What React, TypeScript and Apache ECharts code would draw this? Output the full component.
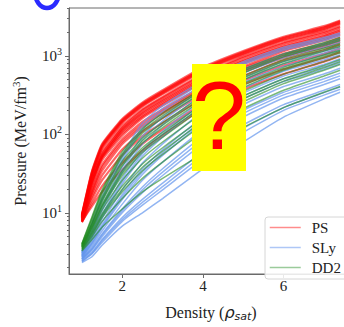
import { useEffect, useRef } from 'react';
import * as echarts from 'echarts';

// Densities (in units of rho_sat) at which each EOS curve is sampled
const DENSITY = [1, 1.25, 1.5, 2, 2.5, 3, 4, 5, 6, 7, 7.4];

// Pressure (MeV/fm^3) for the PS family
const PS_CURVES = [
  [9.5, 34, 75, 157, 253, 364, 714, 1150, 1750, 2390, 2830],
  [9.4, 33, 73, 152, 246, 352, 690, 1120, 1700, 2320, 2750],
  [9.2, 32.5, 71, 148, 239, 344, 675, 1090, 1660, 2260, 2670],
  [9.0, 31, 68, 144, 232, 334, 655, 1060, 1610, 2190, 2600],
  [8.9, 30, 66, 140, 226, 325, 638, 1030, 1570, 2130, 2525],
  [8.7, 27.5, 60, 129, 208, 299, 586, 972, 1480, 2020, 2390],
  [8.9, 26, 54, 121, 202, 290, 570, 946, 1440, 1960, 2320],
  [9.2, 28.3, 57, 118, 191, 275, 540, 894, 1360, 1850, 2190],
  [8.6, 25, 51, 113, 185, 266, 520, 860, 1300, 1780, 2100],
  [8.5, 24.6, 52.5, 109, 175, 253, 496, 822, 1250, 1710, 2020],
  [8.3, 23, 50, 103, 168, 243, 476, 790, 1200, 1640, 1930],
  [8.2, 21.9, 47, 97, 161, 232, 456, 730, 1150, 1570, 1850],
  [8.0, 19.6, 40.7, 87, 144, 208, 407, 694, 1060, 1440, 1710],
  [7.9, 18.5, 38, 81, 134, 196, 385, 655, 1000, 1360, 1610],
  [7.8, 17.5, 34.4, 75.5, 125, 185, 364, 621, 946, 1290, 1520],
  [8.0, 16.1, 30, 64, 109, 161, 325, 554, 880, 1180, 1400],
  [7.6, 14.8, 26, 54, 95, 140, 283, 482, 755, 1060, 1250],
  [7.6, 13.2, 21.9, 43, 75.5, 115, 245, 431, 675, 946, 1120],
  [7.8, 12.2, 18.5, 35.4, 62, 97, 213, 374, 586, 845, 1000],
];

// Pressure (MeV/fm^3) for the SLy family
const SLY_CURVES = [
  [3.25, 7.55, 16.1, 53.9, 140, 232, 482, 845, 1290, 1710, 1960],
  [3.2, 7.1, 15.0, 49, 126, 214, 455, 810, 1230, 1640, 1880],
  [3.16, 6.75, 14.0, 45.6, 115, 196, 431, 777, 1180, 1570, 1800],
  [3.07, 6.03, 12.2, 38.5, 94.6, 166, 374, 675, 1060, 1440, 1660],
  [3.03, 5.8, 11.4, 35, 85, 148, 350, 640, 1000, 1360, 1570],
  [2.99, 5.54, 10.6, 32.5, 75.5, 132, 325, 603, 946, 1290, 1480],
  [2.91, 5.10, 9.46, 27.5, 62.1, 109, 275, 524, 845, 1150, 1320],
  [2.87, 4.9, 9.0, 25, 57, 100, 252, 490, 790, 1090, 1250],
  [2.83, 4.69, 8.45, 23.2, 52.5, 91.9, 232, 456, 734, 1030, 1180],
  [2.83, 4.43, 7.55, 19.6, 43.1, 75.5, 196, 385, 638, 894, 1030],
  [2.75, 4.19, 6.94, 17.1, 36.4, 63.8, 166, 334, 554, 777, 919],
  [2.71, 4.1, 6.6, 16, 33, 58, 152, 308, 510, 725, 860],
  [2.67, 3.96, 6.38, 14.8, 30.7, 53.9, 140, 283, 469, 675, 799],
  [2.60, 3.74, 5.86, 12.9, 26.0, 44.3, 115, 239, 407, 586, 694],
  [2.60, 3.54, 5.39, 11.2, 21.3, 36.4, 94.6, 202, 344, 510, 603],
  [2.56, 3.45, 5.2, 10.6, 19.6, 33, 85, 184, 318, 470, 556],
  [2.53, 3.35, 4.96, 10.0, 18.0, 29.9, 75.5, 166, 290, 431, 510],
  [2.46, 3.16, 4.56, 8.69, 14.8, 23.9, 60.3, 132, 239, 364, 431],
  [2.42, 3.05, 4.4, 8.2, 13.6, 21.6, 54, 119, 220, 340, 402],
  [2.39, 2.99, 4.19, 7.77, 12.5, 19.6, 48.2, 106, 202, 316, 374],
  [2.32, 2.75, 3.85, 6.75, 10.0, 15.2, 36.4, 79.9, 166, 283, 344],
];

// Pressure (MeV/fm^3) for the DD2 family
const DD2_CURVES = [
  [4.07, 8.93, 19.6, 60.3, 118, 185, 385, 675, 1060, 1480, 1710],
  [4.0, 8.6, 18.5, 56, 110, 173, 365, 640, 1015, 1420, 1640],
  [3.96, 8.22, 17.5, 52.5, 103, 161, 344, 603, 972, 1360, 1570],
  [3.85, 7.55, 15.7, 45.6, 89.4, 140, 307, 554, 894, 1250, 1440],
  [3.8, 7.3, 14.8, 42, 83, 131, 290, 525, 846, 1200, 1380],
  [3.85, 7.14, 14.0, 39.6, 77.6, 122, 275, 496, 799, 1150, 1320],
  [3.74, 6.75, 12.9, 34.4, 67.5, 106, 239, 443, 714, 1030, 1180],
  [3.7, 6.5, 12.3, 32, 63, 99, 226, 420, 685, 990, 1135],
  [3.64, 6.38, 11.8, 29.9, 58.6, 91.9, 213, 396, 656, 946, 1090],
  [3.64, 6.03, 10.9, 26.0, 49.6, 79.9, 185, 354, 586, 845, 1000],
  [3.54, 5.70, 9.72, 21.9, 41.9, 67.5, 157, 307, 510, 755, 894],
  [3.5, 5.45, 9.2, 20, 38, 61, 144, 283, 476, 705, 835],
  [3.44, 5.24, 8.69, 18.5, 34.4, 55.4, 132, 260, 443, 656, 777],
  [3.35, 4.96, 7.77, 15.2, 27.5, 44.3, 106, 213, 364, 554, 656],
  [3.25, 4.56, 6.56, 11.2, 18.5, 27.5, 57.0, 122, 219, 344, 407],
];

const LEGEND_NAMES = ['PS', 'SLy', 'DD2'];
const X_TICKS = [2, 4, 6];
const Y_TICKS = [10, 100, 1000];
const Y_MINOR_TICKS = [
  2, 3, 4, 5, 6, 7, 8, 9,
  20, 30, 40, 50, 60, 70, 80, 90,
  200, 300, 400, 500, 600, 700, 800, 900,
  2000, 3000, 4000,
];
const X_RANGE = [0.68, 7.72];
const Y_RANGE = [1.66, 4074];

export default function App() {
  const ref = useRef<HTMLDivElement>(null);

  useEffect(() => {
    if (!ref.current) return;
    const chart = echarts.init(ref.current, null, { renderer: 'svg' });
    const serif = 'Liberation Serif';
    const axisColor = '#6a6a6a';
    const textColor = '#222';

    const mk = (name: string, curves: number[][], color: string, width: number) =>
      curves.map((c) => ({
        type: 'line',
        name,
        data: c.map((p, i) => [DENSITY[i], p]),
        symbol: 'none',
        showSymbol: false,
        smooth: 0.15,
        silent: true,
        lineStyle: { color, width },
        itemStyle: { color },
      }));

    const series = [
      ...mk('PS', PS_CURVES, 'rgba(255,0,0,0.6)', 2.2),
      ...mk('SLy', SLY_CURVES, 'rgba(100,149,237,0.7)', 1.5),
      ...mk('DD2', DD2_CURVES, 'rgba(34,139,34,0.6)', 1.5),
    ];

    chart.setOption({
      animation: false,
      backgroundColor: '#fff',
      grid: {
        left: 69,
        top: 8,
        width: 284,
        height: 278,
        show: true,
        borderColor: axisColor,
        borderWidth: 1,
        backgroundColor: 'transparent',
      },
      xAxis: {
        type: 'value',
        min: X_RANGE[0],
        max: X_RANGE[1],
        axisLine: { show: true, lineStyle: { color: axisColor, width: 1 } },
        axisTick: { show: true, customValues: X_TICKS, length: 4, lineStyle: { color: axisColor } },
        axisLabel: {
          customValues: X_TICKS,
          fontFamily: serif,
          fontSize: 15,
          color: textColor,
          margin: 4,
        },
        splitLine: { show: false },
        name: 'Density ({r|ρ}{s|sat})',
        nameLocation: 'middle',
        nameGap: 29,
        nameTextStyle: {
          fontFamily: serif,
          fontSize: 16,
          color: textColor,
          rich: {
            r: { fontFamily: 'DejaVu Sans', fontStyle: 'italic', fontSize: 16, color: textColor },
            s: {
              fontFamily: 'DejaVu Sans',
              fontStyle: 'italic',
              fontSize: 11,
              color: textColor,
              padding: [8, 0, 0, 0],
            },
          },
        },
      },
      yAxis: [
        {
          type: 'log',
          logBase: 10,
          min: Y_RANGE[0],
          max: Y_RANGE[1],
          axisLine: { show: true, lineStyle: { color: axisColor, width: 1 } },
          axisTick: { show: true, customValues: Y_TICKS, length: 4, lineStyle: { color: axisColor } },
          axisLabel: {
            customValues: Y_TICKS,
            fontFamily: serif,
            fontSize: 15,
            color: textColor,
            margin: 7,
            formatter: (v: number) => `10{sup|${Math.round(Math.log10(v))}}`,
            rich: {
              sup: { fontFamily: serif, fontSize: 10, color: textColor, padding: [0, 0, 9, 0] },
            },
          },
          splitLine: { show: false },
          minorTick: { show: false },
          name: 'Pressure (MeV/fm{sup|3})',
          nameLocation: 'middle',
          nameRotate: 90,
          nameGap: 39,
          nameTextStyle: {
            fontFamily: serif,
            fontSize: 16,
            color: textColor,
            rich: {
              sup: { fontFamily: serif, fontSize: 11, color: textColor, padding: [0, 0, 9, 0] },
            },
          },
        },
        {
          type: 'log',
          logBase: 10,
          min: Y_RANGE[0],
          max: Y_RANGE[1],
          position: 'left',
          axisLine: { show: false },
          axisTick: {
            show: true,
            customValues: Y_MINOR_TICKS,
            length: 2,
            lineStyle: { color: axisColor },
          },
          axisLabel: { show: false },
          splitLine: { show: false },
        },
      ],
      legend: {
        data: LEGEND_NAMES,
        orient: 'vertical',
        left: 265,
        top: 217,
        padding: [3, 40, 4, 4],
        itemGap: 5,
        itemWidth: 31,
        itemHeight: 10,
        itemStyle: { opacity: 0 },
        lineStyle: { width: 1.5, opacity: 0.75 },
        backgroundColor: 'rgba(255,255,255,0.85)',
        borderColor: '#d6d6d6',
        borderWidth: 1,
        borderRadius: 3,
        selectedMode: false,
        textStyle: { fontFamily: serif, fontSize: 15, color: textColor, padding: [0, 0, 0, 6] },
      },
      graphic: [
        {
          type: 'ellipse',
          z: 100,
          shape: { cx: 47, cy: -8, rx: 12, ry: 16 },
          style: { fill: 'none', stroke: '#2a2aff', lineWidth: 4.5 },
        },
        {
          type: 'rect',
          z: 100,
          shape: { x: 192, y: 64, width: 54, height: 107 },
          style: { fill: '#ffff00' },
        },
        {
          type: 'text',
          z: 101,
          x: 219,
          y: 115,
          style: {
            text: '?',
            fill: '#ff0000',
            font: '97px "Liberation Sans", Arial, sans-serif',
            align: 'center',
            verticalAlign: 'middle',
          },
        },
      ],
      series,
    });

    return () => chart.dispose();
  }, []);

  return (
    <div
      style={{
        position: 'fixed',
        left: 0,
        top: 0,
        width: 344,
        height: 327,
        overflow: 'hidden',
        background: '#fff',
      }}
    >
      <div ref={ref} style={{ width: 400, height: 327 }} />
    </div>
  );
}
